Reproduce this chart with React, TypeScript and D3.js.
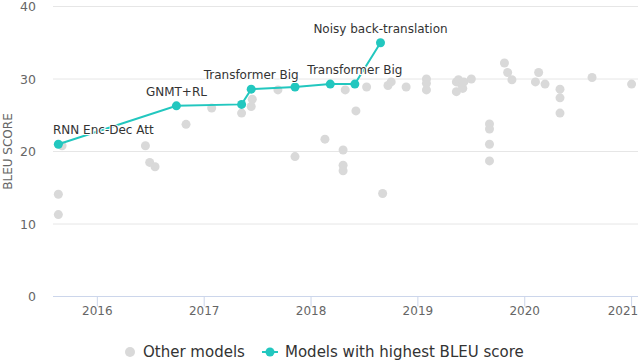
import React, { useRef, useEffect } from "react";
import * as d3 from "d3";

// best-so-far models (decimal year, BLEU)
const sotaDates = [2015.635, 2016.74, 2017.35, 2017.44, 2017.85, 2018.18, 2018.41, 2018.65];
const sotaScores = [21.0, 26.3, 26.5, 28.6, 28.9, 29.3, 29.3, 35.0];
const sotaLabels = ["RNN Enc-Dec Att", "GNMT+RL", "", "Transformer Big", "", "", "Transformer Big", "Noisy back-translation"];

// other models
const otherDates = [
  2015.67, 2015.635, 2015.635, 2016.45, 2016.49, 2016.54, 2016.83, 2017.07,
  2017.35, 2017.45, 2017.44, 2017.69, 2017.85, 2018.13, 2018.30, 2018.30, 2018.30,
  2018.32, 2018.42, 2018.52, 2018.67, 2018.72, 2018.75, 2018.89,
  2019.08, 2019.08, 2019.08, 2019.36, 2019.36, 2019.38, 2019.41, 2019.42, 2019.43, 2019.50,
  2019.67, 2019.67, 2019.67, 2019.67, 2019.81, 2019.84, 2019.88,
  2020.10, 2020.13, 2020.19, 2020.33, 2020.33, 2020.33, 2020.63, 2021.0,
];
const otherScores = [
  20.8, 14.1, 11.3, 20.8, 18.5, 17.9, 23.75, 26.0,
  25.3, 27.2, 26.2, 28.5, 19.3, 21.7, 20.2, 18.1, 17.35,
  28.5, 25.6, 28.9, 14.2, 29.1, 29.6, 28.9,
  30.0, 29.4, 28.5, 29.6, 28.25, 29.9, 29.2, 28.7, 29.6, 30.0,
  23.8, 23.1, 21.0, 18.7, 32.2, 30.9, 29.9,
  29.6, 30.9, 29.3, 28.6, 27.4, 25.3, 30.2, 29.3,
];

const yTicks = [0, 10, 20, 30, 40];
const xTicks = [2016, 2017, 2018, 2019, 2020, 2021];
const legendNames = ["Other models", "Models with highest BLEU score"];

const W = 640;
const H = 361;
const TEAL = "#22c7bf";
const GREY = "#d9d9d9";
const FONT = "'DejaVu Sans', sans-serif";

export default function App() {
  const svgRef = useRef<SVGSVGElement>(null);

  useEffect(() => {
    const svg = d3.select(svgRef.current);
    svg.selectAll("*").remove();

    const left = 53, right = 638;
    const x = d3.scaleLinear().domain([2015.585, 2021.06]).range([left, right]);
    const y = d3.scaleLinear().domain([0, 40]).range([296.5, 6.5]);

    // gridlines
    svg.append("g")
      .selectAll("line")
      .data(yTicks.filter(d => d > 0))
      .join("line")
      .attr("x1", left).attr("x2", right)
      .attr("y1", d => y(d)).attr("y2", d => y(d))
      .attr("stroke", "#e6e6e6");

    // y labels
    svg.append("g")
      .selectAll("text")
      .data(yTicks)
      .join("text")
      .attr("x", 36)
      .attr("y", d => y(d) + 4.5)
      .attr("text-anchor", "end")
      .attr("font-family", FONT)
      .attr("font-size", 12.5)
      .attr("fill", "#666")
      .text(d => d);

    svg.append("text")
      .attr("transform", `translate(11.5,${(y(0) + y(40)) / 2}) rotate(-90)`)
      .attr("text-anchor", "middle")
      .attr("font-family", FONT)
      .attr("font-size", 12)
      .attr("fill", "#666")
      .text("BLEU SCORE");

    // x axis
    const xa = svg.append("g").attr("transform", `translate(0,${y(0)})`);
    xa.append("line").attr("x1", left).attr("x2", right).attr("stroke", "#ccd6eb");
    xa.selectAll("line.tick")
      .data(xTicks)
      .join("line")
      .attr("class", "tick")
      .attr("x1", d => x(d)).attr("x2", d => x(d))
      .attr("y1", 0).attr("y2", 10)
      .attr("stroke", "#ccd6eb");
    xa.selectAll("text")
      .data(xTicks)
      .join("text")
      .attr("x", d => Math.min(x(d), W - 2 - 15))
      .attr("y", 18)
      .attr("text-anchor", "middle")
      .attr("font-family", FONT)
      .attr("font-size", 12)
      .attr("fill", "#666")
      .text(d => d);

    // other models
    svg.append("g")
      .selectAll("circle")
      .data(otherDates.map((d, i) => [d, otherScores[i]]))
      .join("circle")
      .attr("cx", d => x(d[0]))
      .attr("cy", d => y(d[1]))
      .attr("r", 4.5)
      .attr("fill", GREY);

    // sota line
    const sota = sotaDates.map((d, i) => ({ date: d, score: sotaScores[i], label: sotaLabels[i] }));
    const line = d3.line<any>().x(d => x(d.date)).y(d => y(d.score));
    svg.append("path")
      .datum(sota)
      .attr("d", line)
      .attr("fill", "none")
      .attr("stroke", TEAL)
      .attr("stroke-width", 2);
    svg.append("g")
      .selectAll("circle")
      .data(sota)
      .join("circle")
      .attr("cx", d => x(d.date))
      .attr("cy", d => y(d.score))
      .attr("r", 4.5)
      .attr("fill", TEAL);

    // data labels, kept inside the plot area
    const labels = svg.append("g")
      .selectAll("text")
      .data(sota.filter(d => d.label))
      .join("text")
      .attr("y", d => y(d.score) - 10)
      .attr("text-anchor", "start")
      .attr("font-family", FONT)
      .attr("font-size", 12)
      .attr("fill", "#333")
      .attr("stroke", "#fff")
      .attr("stroke-width", 2)
      .attr("paint-order", "stroke")
      .text(d => d.label);
    labels.each(function (d: any) {
      const w = (this as SVGTextElement).getComputedTextLength();
      const lx = Math.max(left, x(d.date) - w / 2);
      d3.select(this).attr("x", lx);
    });

    // legend
    const lg = svg.append("g").attr("transform", "translate(0,352)");
    lg.append("circle").attr("cx", 130).attr("cy", 0).attr("r", 5).attr("fill", GREY);
    lg.append("text").attr("x", 143).attr("y", 5)
      .attr("font-family", FONT).attr("font-size", 15).attr("fill", "#333")
      .text(legendNames[0]);
    lg.append("line").attr("x1", 262).attr("x2", 278).attr("stroke", TEAL).attr("stroke-width", 2);
    lg.append("circle").attr("cx", 270).attr("cy", 0).attr("r", 4.5).attr("fill", TEAL);
    lg.append("text").attr("x", 285).attr("y", 5)
      .attr("font-family", FONT).attr("font-size", 15).attr("fill", "#333")
      .text(legendNames[1]);
  }, []);

  return (
    <svg
      ref={svgRef}
      width={W}
      height={H}
      style={{ position: "absolute", left: 0, top: 0, background: "#fff" }}
    />
  );
}
